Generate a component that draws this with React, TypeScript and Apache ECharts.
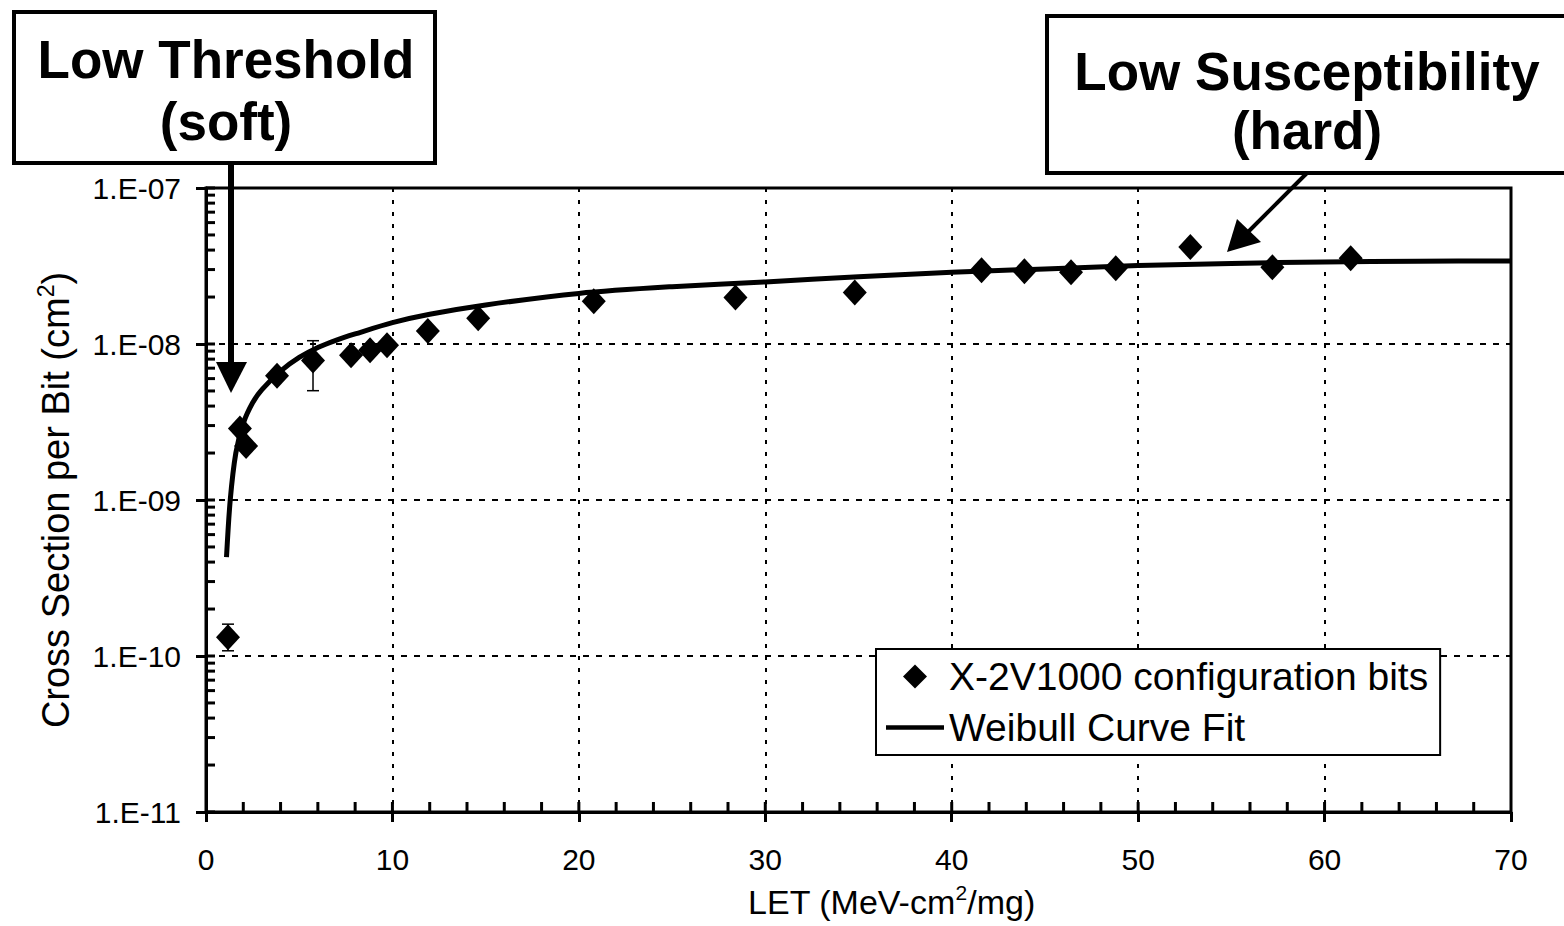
import React, { useEffect, useRef } from "react";
import * as echarts from "echarts";

const FONT = 'Arial, "Liberation Sans", Helvetica, sans-serif';

// Measured data: LET (MeV-cm2/mg) and cross section per bit (cm2)
const letValues = [1.18, 1.82, 2.15, 3.81, 5.74, 7.78, 8.8, 9.71, 11.9, 14.6, 20.8, 28.4, 34.8, 41.6, 43.9, 46.4, 48.8, 52.8, 57.2, 61.4];
const crossSection = [1.32e-10, 2.87e-9, 2.22e-9, 6.27e-9, 7.83e-9, 8.47e-9, 9.12e-9, 9.82e-9, 1.21e-8, 1.46e-8, 1.88e-8, 1.99e-8, 2.14e-8, 2.97e-8, 2.93e-8, 2.88e-8, 3.06e-8, 4.18e-8, 3.1e-8, 3.55e-8];

// Error bars
const errLet = [1.18, 5.74];
const errLow = [1.08e-10, 5.02e-9];
const errHigh = [1.6e-10, 1.05e-8];

// Weibull curve fit
const fitLet = [1.1, 1.3, 1.6, 2.0, 2.5, 3.0, 4.0, 5.0, 6.0, 7.0, 8.0, 10, 12, 15, 20, 25, 30, 35, 40, 45, 50, 55, 60, 65, 70];
const fitSigma = [4.3e-10, 1.0e-9, 2.0e-9, 3.1e-9, 4.2e-9, 5.1e-9, 6.7e-9, 8.2e-9, 9.5e-9, 1.06e-8, 1.16e-8, 1.37e-8, 1.55e-8, 1.78e-8, 2.11e-8, 2.33e-8, 2.5e-8, 2.7e-8, 2.88e-8, 3.03e-8, 3.18e-8, 3.28e-8, 3.36e-8, 3.39e-8, 3.41e-8];

// Tick values
const yMajorTicks = [1e-11, 1e-10, 1e-9, 1e-8, 1e-7];
const yMinorMultipliers = [2, 3, 4, 5, 6, 7, 8, 9];
const xInnerTicks = [2, 4, 6, 8, 10, 12, 14, 16, 18, 20, 22, 24, 26, 28, 30, 32, 34, 36, 38, 40, 42, 44, 46, 48, 50, 52, 54, 56, 58, 60, 62, 64, 66, 68];

const SERIES_POINTS = "X-2V1000 configuration bits";
const SERIES_FIT = "Weibull Curve Fit";

export default function App() {
  const ref = useRef<HTMLDivElement>(null);

  useEffect(() => {
    if (!ref.current) return;
    const chart = echarts.init(ref.current, null, { renderer: "svg" });

    const yTickList: number[] = [];
    yMajorTicks.slice(0, -1).forEach((d) => yMinorMultipliers.forEach((m) => yTickList.push(m * d)));
    yMajorTicks.forEach((d) => yTickList.push(d));

    const option: any = {
      animation: false,
      backgroundColor: "#fff",
      textStyle: { fontFamily: FONT },
      grid: {
        left: 206,
        right: 53,
        top: 188,
        bottom: 114,
        show: true,
        borderColor: "#000",
        borderWidth: 3,
        backgroundColor: "transparent",
      },
      legend: {
        orient: "vertical",
        left: 876,
        top: 649,
        padding: [8, 12, 8, 10],
        itemGap: 12,
        itemWidth: 58,
        itemHeight: 24,
        symbolKeepAspect: true,
        backgroundColor: "#fff",
        borderColor: "#000",
        borderWidth: 2,
        borderRadius: 0,
        textStyle: { fontSize: 39, color: "#000", fontFamily: FONT },
        data: [
          { name: SERIES_POINTS, icon: "path://M12,0 L24,12 L12,24 L0,12 Z", itemStyle: { color: "#000" } },
          { name: SERIES_FIT, icon: "path://M0,0 L58,0 L58,4.5 L0,4.5 Z", itemStyle: { color: "#000" } },
        ],
      },
      xAxis: {
        type: "value",
        min: 0,
        max: 70,
        interval: 10,
        name: "{a|LET (MeV-cm}{s|2}{a|/mg)}",
        nameLocation: "middle",
        nameGap: 70,
        nameTextStyle: {
          padding: [0, 0, 0, 66],
          rich: {
            a: { fontSize: 34, color: "#000", fontFamily: FONT, lineHeight: 40 },
            s: { fontSize: 21, color: "#000", fontFamily: FONT, verticalAlign: "top", lineHeight: 40 },
          },
        },
        axisLine: { show: true, onZero: false, lineStyle: { color: "#000", width: 3 } },
        axisTick: { show: true, inside: false, length: 10, lineStyle: { color: "#000", width: 3 } },
        axisLabel: { fontSize: 30, color: "#000", margin: 32, fontFamily: FONT },
        splitLine: { show: true, lineStyle: { color: "#000", width: 2, type: [4, 8] } },
      },
      yAxis: {
        type: "log",
        logBase: 10,
        min: 1e-11,
        max: 1e-7,
        name: "{a|Cross Section per Bit (cm}{s|2}{a|)}",
        nameLocation: "middle",
        nameGap: 128,
        nameTextStyle: {
          rich: {
            a: { fontSize: 38, color: "#000", fontFamily: FONT, lineHeight: 44 },
            s: { fontSize: 23, color: "#000", fontFamily: FONT, verticalAlign: "top", lineHeight: 44 },
          },
        },
        axisLine: { show: true, lineStyle: { color: "#000", width: 3 } },
        axisTick: { show: true, inside: false, length: 10, lineStyle: { color: "#000", width: 3 } },
        axisLabel: {
          fontSize: 30,
          color: "#000",
          margin: 25,
          fontFamily: FONT,
          formatter: (v: number) => {
            const e = Math.round(Math.log10(v));
            return "1.E" + (e < 0 ? "-" : "+") + String(Math.abs(e)).padStart(2, "0");
          },
        },
        splitLine: { show: true, lineStyle: { color: "#000", width: 2, type: [6, 7] } },
      },
      series: [
        {
          name: "yTicksInner",
          type: "custom",
          silent: true,
          clip: false,
          data: yTickList.map((v) => [0, v]),
          renderItem: (params: any, api: any) => {
            const p = api.coord([0, api.value(1)]);
            return {
              type: "line",
              shape: { x1: p[0], y1: p[1], x2: p[0] + 9, y2: p[1] },
              style: { stroke: "#000", lineWidth: 3 },
            };
          },
          z: 3,
        },
        {
          name: "xTicksInner",
          type: "custom",
          silent: true,
          clip: false,
          data: xInnerTicks.map((v) => [v, 1e-11]),
          renderItem: (params: any, api: any) => {
            const p = api.coord([api.value(0), 1e-11]);
            return {
              type: "line",
              shape: { x1: p[0], y1: p[1], x2: p[0], y2: p[1] - 10 },
              style: { stroke: "#000", lineWidth: 3 },
            };
          },
          z: 3,
        },
        {
          name: "errorBars",
          type: "custom",
          silent: true,
          data: errLet.map((x, i) => [x, errLow[i], errHigh[i]]),
          renderItem: (params: any, api: any) => {
            const lo = api.coord([api.value(0), api.value(1)]);
            const hi = api.coord([api.value(0), api.value(2)]);
            const hw = 6;
            const st = { stroke: "#000", lineWidth: 1.5 };
            return {
              type: "group",
              children: [
                { type: "line", shape: { x1: lo[0], y1: lo[1], x2: hi[0], y2: hi[1] }, style: st },
                { type: "line", shape: { x1: lo[0] - hw, y1: lo[1], x2: lo[0] + hw, y2: lo[1] }, style: st },
                { type: "line", shape: { x1: hi[0] - hw, y1: hi[1], x2: hi[0] + hw, y2: hi[1] }, style: st },
              ],
            };
          },
          z: 4,
        },
        {
          name: SERIES_FIT,
          type: "line",
          data: fitLet.map((x, i) => [x, fitSigma[i]]),
          smooth: 0.3,
          symbol: "none",
          showSymbol: false,
          lineStyle: { color: "#000", width: 5 },
          itemStyle: { color: "#000" },
          z: 5,
        },
        {
          name: SERIES_POINTS,
          type: "scatter",
          data: letValues.map((x, i) => [x, crossSection[i]]),
          symbol: "diamond",
          symbolSize: [24, 26],
          itemStyle: { color: "#000", opacity: 1 },
          z: 6,
        },
      ],
      graphic: [
        // Left annotation box
        {
          type: "rect",
          shape: { x: 14, y: 12, width: 421, height: 151 },
          style: { fill: "#fff", stroke: "#000", lineWidth: 4 },
          z: 100,
        },
        {
          type: "text",
          x: 226,
          y: 59,
          style: { text: "Low Threshold", font: `bold 53px ${FONT}`, fill: "#000", align: "center", verticalAlign: "middle" },
          z: 101,
        },
        {
          type: "text",
          x: 226,
          y: 121,
          style: { text: "(soft)", font: `bold 53px ${FONT}`, fill: "#000", align: "center", verticalAlign: "middle" },
          z: 101,
        },
        {
          type: "line",
          shape: { x1: 231, y1: 163, x2: 231, y2: 366 },
          style: { stroke: "#000", lineWidth: 6 },
          z: 100,
        },
        {
          type: "polygon",
          shape: { points: [[216, 362], [247, 362], [231, 393]] },
          style: { fill: "#000" },
          z: 100,
        },
        // Right annotation box
        {
          type: "rect",
          shape: { x: 1047, y: 16, width: 540, height: 157 },
          style: { fill: "#fff", stroke: "#000", lineWidth: 4 },
          z: 100,
        },
        {
          type: "text",
          x: 1307,
          y: 71,
          style: { text: "Low Susceptibility", font: `bold 53px ${FONT}`, fill: "#000", align: "center", verticalAlign: "middle" },
          z: 101,
        },
        {
          type: "text",
          x: 1307,
          y: 130,
          style: { text: "(hard)", font: `bold 53px ${FONT}`, fill: "#000", align: "center", verticalAlign: "middle" },
          z: 101,
        },
        {
          type: "line",
          shape: { x1: 1307, y1: 173, x2: 1245, y2: 235 },
          style: { stroke: "#000", lineWidth: 4 },
          z: 100,
        },
        {
          type: "polygon",
          shape: { points: [[1237, 219], [1261, 242], [1227, 252]] },
          style: { fill: "#000" },
          z: 100,
        },
      ],
    };

    chart.setOption(option);
    return () => chart.dispose();
  }, []);

  return (
    <div
      ref={ref}
      style={{ position: "fixed", left: 0, top: 0, width: 1564, height: 926, background: "#fff" }}
    />
  );
}
